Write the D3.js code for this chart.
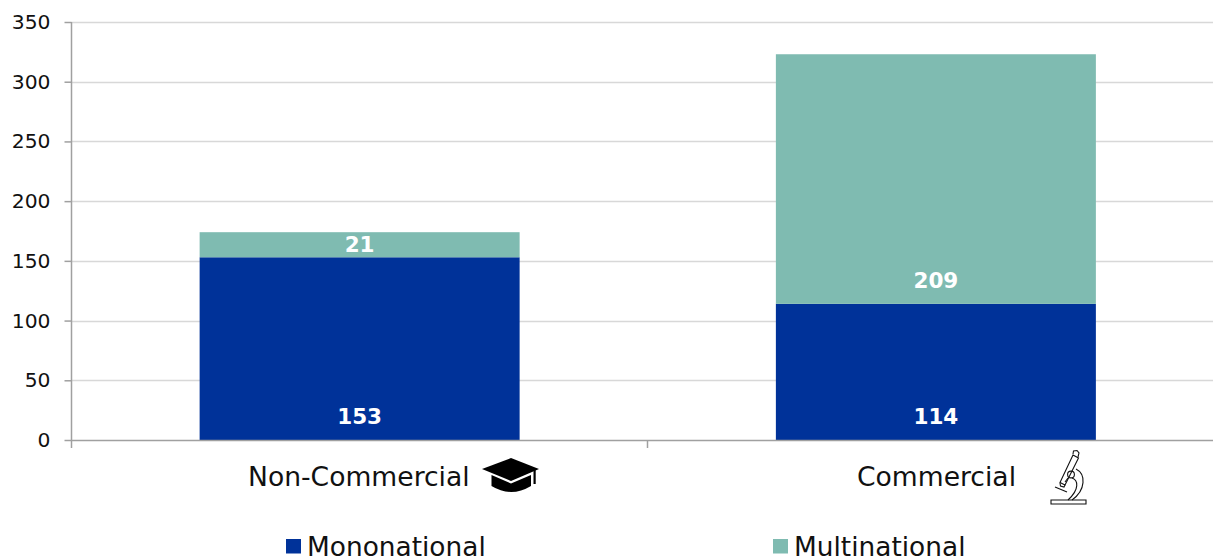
<!DOCTYPE html>
<html><head><meta charset="utf-8">
<script src="https://cdn.jsdelivr.net/npm/d3@7"></script>
<style>html,body{margin:0;padding:0;background:#fff}svg{display:block}text{font-family:"DejaVu Sans",sans-serif}</style>
</head><body><div id="c"></div>
<script>
const categories = ["Non-Commercial", "Commercial"];
const mononational = [153, 114];
const multinational = [21, 209];
const seriesNames = ["Mononational", "Multinational"];
const yTicks = [0, 50, 100, 150, 200, 250, 300, 350];
const colors = ["#003299", "#7fbbb1"];

const W = 1213, H = 556;
const svg = d3.select("#c").append("svg").attr("width", W).attr("height", H);
const x = d3.scaleBand().domain(categories).range([71.5, 1224]).paddingInner(0).paddingOuter(0);
const y = d3.scaleLinear().domain([0, 350]).range([440, 22]);
const barW = 320;

// gridlines
svg.append("g").selectAll("line").data(yTicks.filter(d => d > 0)).join("line")
  .attr("x1", 71.5).attr("x2", W).attr("y1", d => Math.round(y(d)) + .5).attr("y2", d => Math.round(y(d)) + .5)
  .attr("stroke", "#d8d8d8").attr("stroke-width", 1.5);

// bars
const stacks = d3.stack().keys([0, 1]).value((d, k) => d[k])(categories.map((c, i) => [mononational[i], multinational[i]]));
stacks.forEach((s, k) => {
  svg.append("g").selectAll("rect").data(s).join("rect")
    .attr("x", (d, i) => x(categories[i]) + x.bandwidth() / 2 - barW / 2)
    .attr("width", barW)
    .attr("y", d => y(d[1]))
    .attr("height", d => y(d[0]) - y(d[1]))
    .attr("fill", colors[k]);
});

// value labels
const labelVals = [[153, 21], [114, 209]];
categories.forEach((c, i) => {
  [0, 1].forEach(k => {
    const s = stacks[k][i];
    const ly = k === 0 ? y(0) - 24 : (i === 0 ? y((s[0] + s[1]) / 2) : y(s[0]) - 23);
    svg.append("text").attr("x", x(c) + x.bandwidth() / 2).attr("y", ly)
      .attr("text-anchor", "middle").attr("dominant-baseline", "central")
      .attr("fill", "#fff").attr("font-weight", "bold").attr("font-size", 21.5)
      .text(labelVals[i][k]);
  });
});

// y axis
const axisColor = "#a0a0a0";
const yAxis = svg.append("g").attr("transform", "translate(71.5,0)")
  .call(d3.axisLeft(y).tickValues(yTicks).tickSize(7).tickPadding(14));
yAxis.select(".domain").attr("stroke", axisColor).attr("stroke-width", 1.5).attr("d", "M0,22V440");
yAxis.selectAll(".tick line").attr("stroke", axisColor).attr("stroke-width", 1.5);
yAxis.selectAll("text").attr("font-size", 20.3).attr("fill", "#111").attr("font-family", '"DejaVu Sans",sans-serif');

// x axis
svg.append("line").attr("x1", 71.5).attr("x2", W).attr("y1", 440.5).attr("y2", 440.5).attr("stroke", axisColor).attr("stroke-width", 1.5);
svg.append("g").selectAll("line").data([71.5, 647.5]).join("line")
  .attr("x1", d => d).attr("x2", d => d).attr("y1", 440).attr("y2", 448).attr("stroke", axisColor).attr("stroke-width", 1.5);

// category labels
svg.append("text").attr("x", 248).attr("y", 476).attr("dominant-baseline", "central").attr("font-size", 26.6).attr("fill", "#111").text(categories[0]);
svg.append("text").attr("x", 857).attr("y", 476).attr("dominant-baseline", "central").attr("font-size", 26.6).attr("fill", "#111").text(categories[1]);

// graduation cap icon
const cap = svg.append("g").attr("transform", "translate(470,440)");
cap.append("path").attr("fill", "#000").attr("d", "M12,29 L41,18 L69,29 L41,41 Z");
cap.append("path").attr("fill", "#000").attr("d", "M21.5,35 L41,43.5 L61,35 L61,46 Q41,58 21.5,46 Z");
cap.append("rect").attr("x", 63.5).attr("y", 30).attr("width", 2.2).attr("height", 14).attr("fill", "#000");

// microscope icon
const ms = svg.append("g").attr("transform", "translate(1030,440)").attr("fill", "none").attr("stroke", "#111").attr("stroke-width", 1.1);
ms.append("path").attr("d", "M21,60 H56 V64 H21 Z");
ms.append("path").attr("d", "M43,15 L48.5,18 L35,45 L30,42.5 Z");
ms.append("path").attr("d", "M43,14 L43.5,11 L47,10.5 L49,13 L48,17");
ms.append("path").attr("d", "M30,43 L30.5,46 L34,47 L35,45");
ms.append("circle").attr("cx", 41).attr("cy", 34.5).attr("r", 3.4);
ms.append("path").attr("d", "M46,29 C56,34 56,50 42,60 M42,38 C48,40 50,49 38,60");
ms.append("path").attr("d", "M25,47 L37,52");
ms.append("path").attr("d", "M38,38 L35,42");

// legend
[[286, 307], [773, 794]].forEach(([sx, tx], i) => {
  svg.append("rect").attr("x", sx).attr("y", 539).attr("width", 15).attr("height", 14.5).attr("fill", colors[i]);
  svg.append("text").attr("x", tx).attr("y", 546).attr("dominant-baseline", "central").attr("font-size", 26.4).attr("fill", "#111").text(seriesNames[i]);
});
</script></body></html>
